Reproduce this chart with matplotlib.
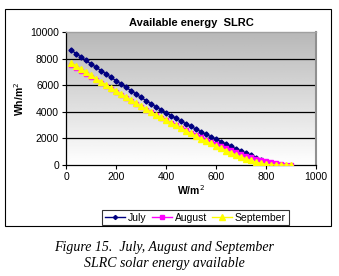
import numpy as np
import matplotlib
matplotlib.use("Agg")
import matplotlib.pyplot as plt
from matplotlib.patches import Rectangle

# irradiance (W/m2) vs available energy (Wh/m2)
x_july = [20, 40, 60, 80, 100, 120, 140, 160, 180, 200, 220, 240, 260, 280, 300,
          320, 340, 360, 380, 400, 420, 440, 460, 480, 500, 520, 540, 560, 580, 600,
          620, 640, 660, 680, 700, 720, 740, 760, 780, 800, 820, 840, 860]
july = [8650, 8380, 8120, 7860, 7600, 7350, 7100, 6850, 6590, 6340, 6090, 5840, 5590,
        5340, 5090, 4840, 4600, 4370, 4150, 3930, 3720, 3510, 3300, 3100, 2900, 2700,
        2500, 2310, 2120, 1940, 1760, 1580, 1400, 1220, 1050, 880, 720, 560, 400, 260,
        160, 80, 20]

x_aug = [20, 40, 60, 80, 100, 120, 140, 160, 180, 200, 220, 240, 260, 280, 300,
         320, 340, 360, 380, 400, 420, 440, 460, 480, 500, 520, 540, 560, 580, 600,
         620, 640, 660, 680, 700, 720, 740, 760, 780, 800, 820, 840, 860, 880, 900]
august = [7550, 7310, 7070, 6840, 6610, 6380, 6150, 5920, 5690, 5460, 5240, 5020, 4800,
          4580, 4360, 4150, 3950, 3750, 3560, 3370, 3180, 2990, 2800, 2610, 2430, 2250,
          2070, 1900, 1730, 1570, 1410, 1260, 1110, 970, 830, 700, 580, 470, 370, 280,
          200, 130, 70, 30, 10]

x_sep = x_aug
september = [7700, 7460, 7220, 6980, 6740, 6500, 6260, 6030, 5800, 5570, 5340, 5110,
             4880, 4650, 4420, 4200, 3990, 3780, 3580, 3380, 3180, 2980, 2780, 2580,
             2380, 2180, 1990, 1800, 1620, 1440, 1260, 1090, 920, 760, 610, 470, 340,
             220, 120, 50, 10, 0, 0, 0, 0]

x_ticks = [0, 200, 400, 600, 800, 1000]
y_ticks = [0, 2000, 4000, 6000, 8000, 10000]

plt.rcParams['font.family'] = ['Liberation Sans', 'DejaVu Sans']

fig = plt.figure(figsize=(3.39, 2.76), dpi=100)
fig.patch.set_facecolor('white')

# outer chart frame
fig.patches.append(Rectangle((5 / 339, 1 - 226 / 276), 326 / 339, 217 / 276,
                             transform=fig.transFigure, fill=False,
                             edgecolor='black', linewidth=0.8))

ax = fig.add_axes([66 / 339, 1 - 165 / 276, 250 / 339, 133 / 276])

# grey gradient plot area, darker at the top
grad = np.linspace(1.0, 0.72, 256).reshape(-1, 1)
ax.imshow(grad, cmap='gray', vmin=0, vmax=1, aspect='auto',
          extent=[0, 1, 0, 1], transform=ax.transAxes, origin='lower', zorder=0)

ax.set_xlim(0, 1000)
ax.set_ylim(0, 10000)
for y in y_ticks[1:-1]:
    ax.axhline(y, color='black', linewidth=0.9, zorder=1)

ax.plot(x_july, july, color='#000080', marker='D', markersize=2.6,
        linewidth=1.0, label='July', zorder=3)
ax.plot(x_aug, august, color='#FF00FF', marker='s', markersize=3.2,
        linewidth=1.0, label='August', zorder=4)
ax.plot(x_sep, september, color='#FFFF00', marker='^', markersize=4.8,
        linewidth=1.0, label='September', zorder=5)

ax.set_xticks(x_ticks)
ax.set_yticks(y_ticks)
ax.tick_params(labelsize=7.5, length=3, width=0.8, pad=2)
ax.spines['top'].set_color('#a0a0a0')
ax.spines['top'].set_linewidth(1.0)
ax.spines['right'].set_color('#909090')
ax.spines['right'].set_linewidth(1.5)
ax.spines['left'].set_linewidth(0.9)
ax.spines['bottom'].set_linewidth(0.9)

ax.set_xlabel('W/m$^2$', fontsize=7.5, fontweight='bold', labelpad=1)
ax.set_ylabel('Wh/m$^2$', fontsize=7.5, fontweight='bold', labelpad=3)
ax.set_title('Available energy  SLRC', fontsize=8, fontweight='bold', pad=4)

leg = ax.legend(loc='upper center', bbox_to_anchor=(0.518, -0.3), ncol=3,
                fontsize=7.5, frameon=True, fancybox=False, handlelength=1.9,
                handletextpad=0.3, columnspacing=0.5, borderpad=0.25,
                markerscale=0.8)
leg.get_frame().set_edgecolor('black')
leg.get_frame().set_linewidth(0.8)

fig.text(0.485, 1 - 248 / 276, 'Figure 15.  July, August and September',
         ha='center', va='center', fontsize=10, style='italic',
         family=['Liberation Serif', 'DejaVu Serif'])
fig.text(0.485, 1 - 264 / 276, 'SLRC solar energy available',
         ha='center', va='center', fontsize=10, style='italic',
         family=['Liberation Serif', 'DejaVu Serif'])

fig.savefig('out.png', dpi=100)
